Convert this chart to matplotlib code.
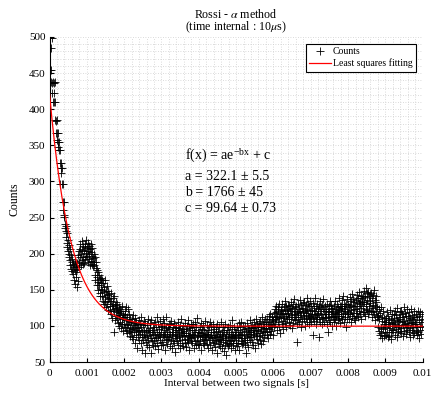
import numpy as np
import matplotlib
matplotlib.use("Agg")
import matplotlib.pyplot as plt
from matplotlib.ticker import MultipleLocator, FuncFormatter

plt.rcParams['font.family'] = ['Liberation Serif', 'DejaVu Serif']
plt.rcParams['mathtext.fontset'] = 'stix'

# ---- data -------------------------------------------------------------
interval_s = 10e-6  # sampling interval (10 us)

counts_decay = [
    423, 454, 499, 485, 438, 454, 436, 423, 499, 438, 410, 436, 423, 410, 385, 438, 410, 384, 367, 385,
    367, 357, 355, 367, 348, 343, 355, 326, 343, 297, 318, 326, 312, 318, 297, 272, 297, 260, 272, 254,
    251, 236, 241, 223, 232, 238, 215, 228, 209, 219, 203, 196, 212, 199, 206, 191, 184, 198, 179, 188,
    193, 176, 185, 172, 186, 181, 164, 190, 177, 158, 183, 168, 175, 154, 187, 179, 162, 198, 204, 181,
]
counts_bump = [
    188, 207, 195, 213, 184, 199, 218, 191, 205, 186, 211, 196, 203, 187, 209, 214, 192, 201, 197, 219,
    208, 196, 215, 189, 203, 211, 199, 193, 206, 184, 214, 202, 190, 197, 208, 186, 194, 183, 200, 188,
    184, 171, 196, 163, 180, 189, 168, 157, 178, 161, 150, 174, 156, 170, 146, 165, 142, 160, 151, 167,
    150, 164, 141, 135, 159, 147, 130, 154, 140, 163, 133, 149, 126, 143, 155, 131, 148, 137, 122, 139,
    144, 127, 135, 120, 146, 117, 134, 128, 111, 138, 123, 131, 92, 141, 121, 108, 129, 114, 125, 133,
    122, 111, 130, 104, 119, 126, 100, 115, 124, 106, 118, 97, 121, 109, 128, 103, 116, 93, 113, 102,
]
counts_tail = [
    112, 121, 98, 115, 94, 108, 126, 101, 90, 113, 103, 124, 93, 107, 117, 86, 110, 97, 105, 91,
    96, 109, 84, 99, 115, 82, 104, 91, 101, 76, 111, 94, 88, 106, 97, 70, 93, 103, 85, 108,
    94, 81, 103, 89, 76, 99, 112, 85, 92, 66, 101, 80, 107, 88, 95, 63, 84, 104, 78, 93,
    86, 101, 74, 95, 110, 80, 91, 71, 104, 87, 97, 62, 83, 108, 92, 79, 99, 73, 89, 102,
    81, 94, 106, 72, 88, 99, 83, 113, 77, 91, 84, 102, 68, 89, 96, 80, 107, 86, 74, 98,
    91, 78, 100, 87, 109, 73, 94, 84, 104, 67, 89, 97, 80, 112, 86, 92, 75, 99, 82, 103,
    84, 96, 72, 102, 89, 80, 107, 92, 70, 87, 99, 79, 91, 104, 77, 86, 97, 64, 94, 83,
    99, 79, 89, 95, 74, 106, 84, 97, 88, 69, 101, 81, 92, 110, 86, 77, 96, 90, 72, 100,
    87, 93, 76, 104, 82, 96, 71, 90, 100, 80, 88, 108, 78, 97, 86, 66, 94, 84, 103, 79,
    83, 98, 89, 76, 102, 87, 70, 94, 84, 105, 79, 91, 99, 74, 86, 111, 81, 92, 88, 75,
    92, 73, 86, 99, 79, 90, 104, 66, 84, 96, 77, 88, 101, 82, 74, 94, 87, 107, 80, 89,
    81, 101, 75, 89, 95, 70, 86, 98, 80, 105, 84, 73, 92, 87, 100, 67, 83, 91, 102, 78,
    88, 77, 96, 84, 71, 99, 81, 91, 63, 86, 103, 79, 93, 75, 85, 98, 72, 89, 82, 106,
    80, 91, 70, 86, 99, 78, 88, 65, 95, 83, 74, 102, 81, 60, 89, 76, 94, 85, 72, 98,
    86, 75, 92, 81, 101, 70, 89, 79, 96, 84, 108, 73, 88, 77, 99, 83, 67, 91, 86, 76,
    91, 81, 72, 99, 84, 94, 76, 104, 87, 66, 89, 98, 79, 88, 106, 75, 92, 83, 100, 77,
    83, 96, 88, 73, 100, 81, 93, 62, 86, 104, 78, 97, 89, 71, 94, 84, 108, 80, 91, 99,
    92, 84, 101, 78, 97, 89, 74, 105, 87, 95, 69, 100, 86, 93, 110, 82, 90, 103, 76, 98,
    95, 86, 104, 81, 107, 90, 99, 75, 96, 112, 88, 93, 102, 79, 106, 97, 84, 91, 109, 100,
    97, 105, 88, 110, 92, 102, 83, 114, 96, 106, 100, 89, 117, 101, 93, 109, 98, 112, 87, 107,
]
counts_rise = [
    108, 118, 100, 124, 113, 103, 128, 109, 119, 95, 114, 126, 105, 121, 99, 130, 111, 116, 90, 122,
    112, 124, 102, 118, 131, 107, 116, 96, 126, 111, 120, 134, 104, 114, 127, 99, 122, 109, 129, 117,
    118, 106, 127, 113, 101, 124, 133, 110, 120, 97, 125, 115, 130, 104, 121, 112, 137, 108, 117, 126,
    113, 127, 102, 119, 78, 110, 131, 118, 105, 123, 136, 112, 121, 99, 129, 115, 107, 125, 119, 132,
    120, 109, 133, 114, 124, 100, 118, 129, 111, 139, 106, 122, 115, 131, 103, 127, 113, 121, 135, 110,
    114, 127, 105, 122, 116, 87, 132, 111, 121, 107, 128, 117, 138, 113, 102, 125, 115, 130, 109, 123,
    118, 110, 127, 85, 121, 134, 106, 116, 126, 103, 129, 113, 123, 111, 137, 105, 120, 112, 128, 117,
    111, 124, 116, 103, 130, 112, 120, 92, 127, 108, 119, 135, 106, 123, 114, 129, 100, 117, 125, 113,
    121, 112, 128, 106, 118, 134, 110, 124, 114, 100, 130, 119, 108, 126, 116, 139, 111, 122, 104, 127,
    114, 127, 120, 136, 109, 125, 117, 141, 106, 123, 131, 112, 128, 118, 99, 130, 121, 110, 137, 116,
    119, 131, 110, 126, 140, 116, 129, 105, 135, 122, 144, 114, 127, 118, 137, 111, 124, 133, 108, 128,
    123, 136, 114, 143, 128, 118, 139, 112, 132, 147, 121, 135, 116, 130, 142, 125, 110, 138, 133, 119,
    127, 142, 119, 149, 133, 114, 140, 124, 152, 131, 122, 145, 136, 117, 147, 128, 141, 120, 134, 144,
    132, 121, 146, 125, 138, 113, 143, 129, 119, 150, 116, 136, 127, 108, 141, 120, 133, 112, 126, 115,
]
counts_end = [
    114, 99, 123, 93, 110, 87, 118, 97, 126, 90, 107, 83, 113, 96, 120, 86, 102, 111, 92, 106,
    99, 111, 88, 105, 119, 92, 103, 84, 114, 97, 108, 86, 122, 100, 91, 110, 82, 104, 95, 116,
    106, 94, 117, 100, 111, 88, 121, 103, 96, 115, 85, 108, 125, 99, 107, 91, 113, 101, 119, 93,
    109, 97, 120, 90, 106, 116, 86, 112, 101, 126, 93, 107, 102, 118, 89, 114, 98, 123, 104, 95,
    101, 114, 92, 108, 119, 97, 85, 111, 104, 124, 94, 106, 115, 88, 110, 99, 121, 90, 113, 103,
    106, 93, 116, 102, 87, 112, 98, 121, 91, 108, 83, 114, 100, 119, 95, 105, 89, 117, 99, 110,
]

# least-squares fit parameters shown on the chart
fit_a, fit_a_err = 322.1, 5.5
fit_b, fit_b_err = 1766, 45
fit_c, fit_c_err = 99.64, 0.73

x_ticks = [0, 0.001, 0.002, 0.003, 0.004, 0.005, 0.006, 0.007, 0.008, 0.009, 0.01]
y_ticks = [50, 100, 150, 200, 250, 300, 350, 400, 450, 500]

counts = np.array(counts_decay + counts_bump + counts_tail + counts_rise + counts_end, dtype=float)
t = np.arange(len(counts)) * interval_s
t_fit = np.linspace(0, 0.01, 600)
y_fit = fit_a * np.exp(-fit_b * t_fit) + fit_c

# ---- figure -----------------------------------------------------------
W, H = 433, 394
fig = plt.figure(figsize=(W / 100, H / 100), dpi=100)
L, R, T, B = 49.5, 422.7, 37, 362
ax = fig.add_axes([L / W, 1 - B / H, (R - L) / W, (B - T) / H])

ax.plot(t, counts, linestyle='none', marker='+', color='black',
        markersize=5.6, markeredgewidth=0.6, label='Counts', zorder=3)
ax.plot(t_fit, y_fit, color='red', linewidth=0.9, label='Least squares fitting', zorder=4)

ax.set_xlim(0, 0.01)
ax.set_ylim(50, 500)
ax.set_xticks(x_ticks)
ax.set_yticks(y_ticks)
ax.xaxis.set_major_formatter(FuncFormatter(lambda v, p: '%g' % round(v, 6)))
ax.xaxis.set_minor_locator(MultipleLocator(0.0002))
ax.yaxis.set_minor_locator(MultipleLocator(10))
ax.tick_params(which='major', direction='in', length=3, width=0.8, labelsize=8,
               top=False, right=False)
ax.tick_params(axis='x', which='major', pad=5)
ax.tick_params(axis='y', which='major', pad=3)
ax.tick_params(which='minor', length=0)
ax.grid(True, which='both', linestyle=(0, (1, 2)), color='#cfcfcf', linewidth=0.6)
ax.set_axisbelow(True)
for s in ['top', 'right']:
    ax.spines[s].set_visible(False)
for s in ['left', 'bottom']:
    ax.spines[s].set_linewidth(0.8)

ax.set_xlabel('Interval between two signals [s]', fontsize=8.2, labelpad=1)
ax.set_ylabel('Counts', fontsize=8.5, labelpad=6)

fig.text(236 / W, 1 - 14 / H, r'Rossi - $\alpha$ method', ha='center', va='center', fontsize=8.6)
fig.text(236 / W, 1 - 27 / H, r'(time internal : 10$\mu$s)', ha='center', va='center', fontsize=8.6)

tx = (185 - L) / (R - L)
ax.text(tx, (B - 156) / (B - T), r'f(x) = ae$^{\mathregular{-bx}}$ + c', transform=ax.transAxes,
        fontsize=10, va='center', ha='left')
ax.text(tx, (B - 177) / (B - T), 'a = %.1f \u00b1 %.1f' % (fit_a, fit_a_err), transform=ax.transAxes,
        fontsize=10, va='center', ha='left')
ax.text(tx, (B - 193) / (B - T), 'b = %d \u00b1 %d' % (fit_b, fit_b_err), transform=ax.transAxes,
        fontsize=10, va='center', ha='left')
ax.text(tx, (B - 208) / (B - T), 'c = %.2f \u00b1 %.2f' % (fit_c, fit_c_err), transform=ax.transAxes,
        fontsize=10, va='center', ha='left')

leg = ax.legend(loc='upper right', fontsize=7, frameon=True, fancybox=False,
                edgecolor='black', framealpha=1, borderaxespad=0.7, handlelength=2.3,
                handletextpad=0.15, labelspacing=0.25, borderpad=0.35)
leg.get_frame().set_linewidth(0.8)

fig.savefig('out.png', dpi=100)
